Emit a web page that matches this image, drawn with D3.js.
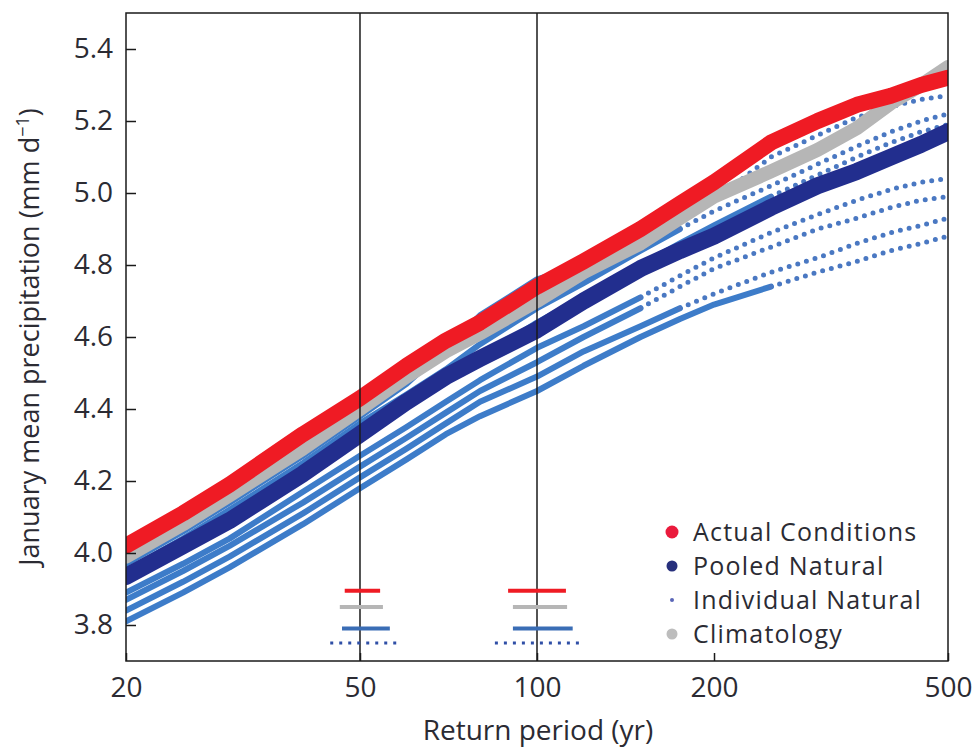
<!DOCTYPE html>
<html>
<head>
<meta charset="utf-8">
<script src="https://cdn.jsdelivr.net/npm/d3@7"></script>
<style>
  html, body { margin: 0; padding: 0; background: #fff; }
  svg { display: block; font-family: "Open Sans", "DejaVu Sans", sans-serif; }
</style>
</head>
<body>
<svg id="chart" width="978" height="749"></svg>
<script>
// Return periods (yr) at which each curve is sampled
const returnPeriods = [20, 25, 30, 40, 50, 60, 70, 80, 100, 120, 150, 175, 200, 250, 300, 350, 400, 450, 500];

// January mean precipitation (mm/d) for each curve
const actualConditions = [4.02, 4.11, 4.19, 4.33, 4.43, 4.52, 4.59, 4.64, 4.74, 4.81, 4.90, 4.97, 5.03, 5.14, 5.20, 5.245, 5.27, 5.30, 5.32];
const climatology      = [3.99, 4.08, 4.16, 4.29, 4.40, 4.49, 4.56, 4.61, 4.70, 4.78, 4.86, 4.93, 4.99, 5.06, 5.12, 5.18, 5.25, 5.30, 5.35];
const pooledNatural    = [3.935, 4.02, 4.09, 4.22, 4.33, 4.42, 4.49, 4.54, 4.62, 4.70, 4.79, 4.84, 4.88, 4.96, 5.02, 5.06, 5.10, 5.135, 5.17];

// Individual natural ensembles
const individualNatural = [
  [3.97, 4.06, 4.14, 4.27, 4.38, 4.47, 4.57, 4.66, 4.76, 4.80, 4.87, 4.93, 4.98, 5.10, 5.16, 5.21, 5.24, 5.26, 5.27],
  [3.95, 4.04, 4.12, 4.25, 4.36, 4.44, 4.51, 4.58, 4.68, 4.75, 4.84, 4.90, 4.95, 5.02, 5.08, 5.13, 5.17, 5.20, 5.22],
  [3.92, 4.01, 4.08, 4.21, 4.32, 4.41, 4.48, 4.54, 4.64, 4.71, 4.80, 4.86, 4.91, 4.99, 5.05, 5.10, 5.14, 5.17, 5.19],
  [3.89, 3.97, 4.04, 4.17, 4.27, 4.35, 4.42, 4.48, 4.57, 4.63, 4.71, 4.77, 4.82, 4.89, 4.94, 4.98, 5.01, 5.03, 5.04],
  [3.87, 3.95, 4.02, 4.14, 4.24, 4.32, 4.39, 4.45, 4.53, 4.60, 4.68, 4.74, 4.79, 4.85, 4.90, 4.93, 4.96, 4.98, 4.99],
  [3.84, 3.92, 3.99, 4.11, 4.21, 4.29, 4.36, 4.42, 4.49, 4.56, 4.63, 4.68, 4.72, 4.78, 4.82, 4.86, 4.89, 4.91, 4.93],
  [3.81, 3.89, 3.96, 4.08, 4.18, 4.26, 4.33, 4.38, 4.45, 4.52, 4.60, 4.65, 4.69, 4.74, 4.78, 4.81, 4.84, 4.86, 4.88]
];
// Return period beyond which each ensemble is sparse (drawn as separate dots)
const individualSparseFrom = [200, 175, 250, 150, 150, 175, 250];

// Return-period ranges for the event around the 1-in-50 and 1-in-100 year levels
const rangeLevels = [3.895, 3.85, 3.79, 3.75];
const range50  = [[47.1, 54.1], [46.2, 54.7], [46.6, 56.2], [44.5, 58.5]];
const range100 = [[89.3, 112], [91, 112.5], [91, 115], [84.8, 119.7]];

// Axis ticks
const xTicks = [20, 50, 100, 200, 500];
const yTicks = [3.8, 4.0, 4.2, 4.4, 4.6, 4.8, 5.0, 5.2, 5.4];
const refLines = [50, 100];

const legendItems = ["Actual Conditions", "Pooled Natural", "Individual Natural", "Climatology"];

const colors = {
  actual: "#ef1b24",
  clim: "#b6b6b6",
  pooled: "#222e8e",
  indiv: "#3d7cc9",
  indivDot: "#4a78c2",
  rangeBlue: "#3a6db5",
  rangeDot: "#2f4fa6",
  text: "#2b2b33"
};

const svg = d3.select("#chart");
const pLeft = 126, pRight = 948, pTop = 13, pBottom = 661;

const x = d3.scaleLog().domain([20, 500]).range([pLeft, pRight]);
const y = d3.scaleLinear().domain([3.7, 5.5]).range([pBottom, pTop]);

svg.append("defs").append("clipPath").attr("id", "plot")
  .append("rect").attr("x", pLeft).attr("y", pTop).attr("width", pRight - pLeft).attr("height", pBottom - pTop);

const plot = svg.append("g").attr("clip-path", "url(#plot)");

const line = d3.line().x(d => x(d[0])).y(d => y(d[1]));
const pairs = vals => returnPeriods.map((rp, i) => [rp, vals[i]]);

// Individual natural ensembles: solid where dense, dotted where sparse
individualNatural.forEach((vals, k) => {
  const pts = pairs(vals);
  const split = individualSparseFrom[k];
  plot.append("path")
    .attr("d", line(pts.filter(p => p[0] <= split)))
    .attr("fill", "none").attr("stroke", colors.indiv)
    .attr("stroke-width", 6).attr("stroke-linejoin", "round").attr("stroke-linecap", "round");
  plot.append("path")
    .attr("d", line(pts.filter(p => p[0] >= split)))
    .attr("fill", "none").attr("stroke", colors.indivDot)
    .attr("stroke-width", 5).attr("stroke-linecap", "round")
    .attr("stroke-dasharray", "0 9");
});

// Pooled natural, climatology and actual conditions
[[pooledNatural, colors.pooled, 17], [climatology, colors.clim, 14], [actualConditions, colors.actual, 16]]
  .forEach(([vals, col, w]) => {
    plot.append("path")
      .attr("d", line(pairs(vals)))
      .attr("fill", "none").attr("stroke", col)
      .attr("stroke-width", w).attr("stroke-linejoin", "round").attr("stroke-linecap", "round");
  });

// Vertical reference lines at 50 and 100 years
svg.selectAll(".ref").data(refLines).join("line")
  .attr("x1", d => x(d)).attr("x2", d => x(d))
  .attr("y1", pTop).attr("y2", pBottom)
  .attr("stroke", "#1a1a1a").attr("stroke-width", 1.5);

// Return-period range bars
const rangeStyles = [
  { stroke: colors.actual, width: 4, dash: null },
  { stroke: colors.clim, width: 4, dash: null },
  { stroke: colors.rangeBlue, width: 4, dash: null },
  { stroke: colors.rangeDot, width: 3, dash: "3 6" }
];
[range50, range100].forEach(ranges => {
  ranges.forEach((r, i) => {
    const s = rangeStyles[i];
    const ln = svg.append("line")
      .attr("x1", x(r[0])).attr("x2", x(r[1]))
      .attr("y1", y(rangeLevels[i])).attr("y2", y(rangeLevels[i]))
      .attr("stroke", s.stroke).attr("stroke-width", s.width);
    if (s.dash) ln.attr("stroke-dasharray", s.dash);
  });
});

// Frame
svg.append("rect")
  .attr("x", pLeft).attr("y", pTop).attr("width", pRight - pLeft).attr("height", pBottom - pTop)
  .attr("fill", "none").attr("stroke", "#1a1a1a").attr("stroke-width", 1.5);

// Axes with inward ticks
const yAxis = svg.append("g").attr("transform", `translate(${pLeft},0)`)
  .call(d3.axisLeft(y).tickValues(yTicks).tickSize(-10).tickPadding(13).tickFormat(d3.format(".1f")));
const xAxis = svg.append("g").attr("transform", `translate(0,${pBottom})`)
  .call(d3.axisBottom(x).tickValues(xTicks).tickSize(-8).tickPadding(16).tickFormat(d3.format("d")));

[yAxis, xAxis].forEach(g => {
  g.select(".domain").remove();
  g.selectAll(".tick line").attr("stroke", "#1a1a1a").attr("stroke-width", 1.5);
  g.selectAll(".tick text").attr("fill", colors.text)
    .style("font-size", "28px").style("font-family", "'Open Sans', sans-serif");
});

// Axis titles
svg.append("text")
  .attr("x", 538).attr("y", 740).attr("text-anchor", "middle")
  .attr("fill", colors.text).style("font-size", "28px")
  .text("Return period (yr)");

const yTitle = svg.append("text")
  .attr("transform", "translate(39,337) rotate(-90)")
  .attr("text-anchor", "middle")
  .attr("fill", colors.text).style("font-size", "27px");
yTitle.append("tspan").text("January mean precipitation (mm d");
yTitle.append("tspan").attr("dy", -10).style("font-size", "18px").text("−1");
yTitle.append("tspan").attr("dy", 10).text(")");

// Legend
const legendMarks = [
  { color: "#ea1a3c", r: 6.5 },
  { color: "#27307c", r: 5.5 },
  { color: "#5a66b8", r: 2 },
  { color: "#bdbdbd", r: 5.5 }
];
const legend = svg.append("g");
legendItems.forEach((label, i) => {
  const cy = 532 + i * 34;
  legend.append("circle").attr("cx", 672).attr("cy", cy)
    .attr("r", legendMarks[i].r).attr("fill", legendMarks[i].color);
  legend.append("text").attr("x", 693).attr("y", cy + 9)
    .attr("fill", colors.text).style("font-size", "25px")
    .style("letter-spacing", "1.2px").text(label);
});
</script>
</body>
</html>
